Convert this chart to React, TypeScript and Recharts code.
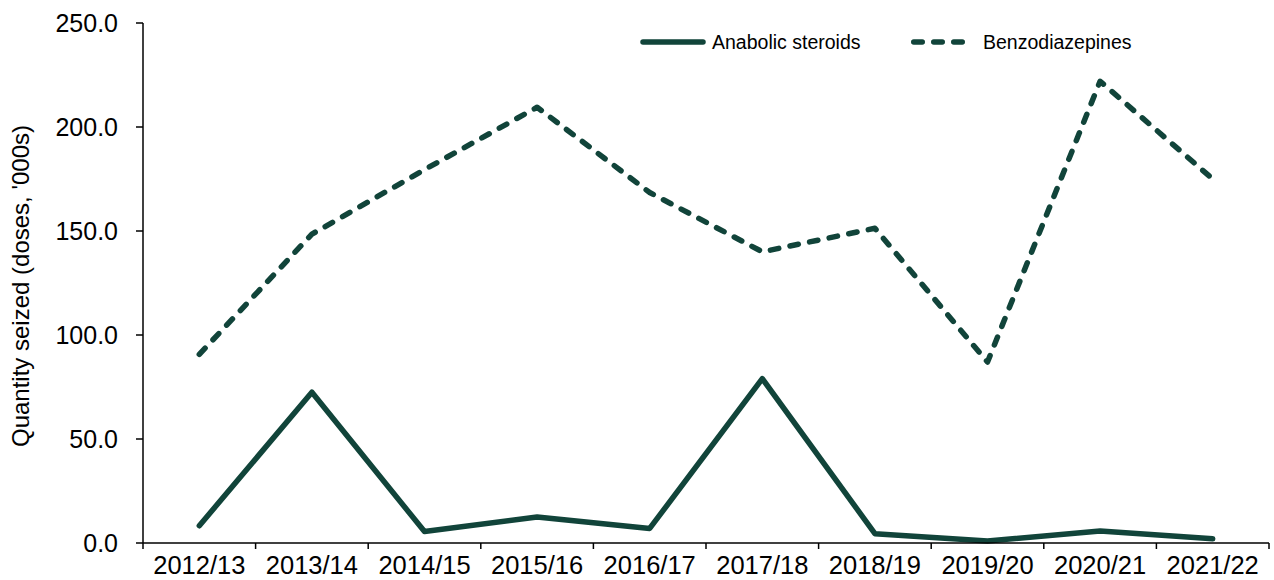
import React from "react";
import { LineChart, Line, XAxis, YAxis } from "recharts";

const categories = ["2012/13", "2013/14", "2014/15", "2015/16", "2016/17", "2017/18", "2018/19", "2019/20", "2020/21", "2021/22"];
const anabolicSteroids = [8.3, 72.5, 5.5, 12.5, 7.0, 79.0, 4.5, 1.0, 5.8, 2.0];
const benzodiazepines = [90.7, 148.5, 179.5, 209.5, 168.5, 140.0, 151.3, 87.0, 222.0, 175.0];
const yTicks = [0, 50, 100, 150, 200, 250];
const seriesNames = ["Anabolic steroids", "Benzodiazepines"];

const data = categories.map((c, i) => ({
  year: c,
  anabolic: anabolicSteroids[i],
  benzo: benzodiazepines[i],
}));

const W = 1274;
const H = 580;
const XAXIS_H = 37;
const MARGIN = { top: 23, right: 5, bottom: 0, left: 0 };
const YAXIS_W = 143;
const COLOR = "#11443A";
const FONT = "'Liberation Sans', Arial, sans-serif";
const DASH = "8.5 11.5";

const plotW = W - MARGIN.left - MARGIN.right - YAXIS_W;
const bandW = plotW / categories.length;

const XTick = (props: any) => {
  const { x, payload, index } = props;
  const y0 = H - XAXIS_H;
  const left = x - bandW / 2;
  const right = x + bandW / 2;
  return (
    <g>
      <line x1={left} y1={y0} x2={left} y2={y0 + 6} stroke="#000" strokeWidth={1.5} />
      {index === categories.length - 1 && (
        <line x1={right} y1={y0} x2={right} y2={y0 + 6} stroke="#000" strokeWidth={1.5} />
      )}
      <text x={x} y={y0 + 31} textAnchor="middle" fontSize={25.5} fontFamily={FONT} fill="#000">
        {payload.value}
      </text>
    </g>
  );
};

const LegendOverlay = () => (
  <svg
    width={W}
    height={70}
    style={{ position: "absolute", left: 0, top: 0, pointerEvents: "none" }}
  >
    <line x1={643} y1={42} x2={703} y2={42} stroke={COLOR} strokeWidth={5.5} strokeLinecap="round" />
    <text x={712} y={42} dominantBaseline="central" fontSize={19.5} fontFamily={FONT} fill="#000">
      {seriesNames[0]}
    </text>
    <line
      x1={913.75}
      y1={42}
      x2={962.25}
      y2={42}
      stroke={COLOR}
      strokeWidth={5.5}
      strokeLinecap="round"
      strokeDasharray={DASH}
    />
    <text x={983} y={42} dominantBaseline="central" fontSize={19.5} fontFamily={FONT} fill="#000">
      {seriesNames[1]}
    </text>
  </svg>
);

const YLabel = () => (
  <text
    x={20}
    y={286}
    transform="rotate(-90 20 286)"
    textAnchor="middle"
    dominantBaseline="central"
    fontSize={24}
    fontFamily={FONT}
    fill="#000"
  >
    Quantity seized (doses, '000s)
  </text>
);

export default function App() {
  return (
    <div style={{ position: "absolute", left: 0, top: 0, width: W, height: H, background: "#fff" }}>
      <LineChart width={W} height={H} data={data} margin={MARGIN}>
        <XAxis
          dataKey="year"
          scale="band"
          interval={0}
          tickLine={false}
          axisLine={{ stroke: "#000", strokeWidth: 1.5 }}
          tick={<XTick />}
          height={XAXIS_H}
        />
        <YAxis
          domain={[0, 250]}
          ticks={yTicks}
          interval={0}
          width={YAXIS_W}
          tickFormatter={(v: number) => v.toFixed(1)}
          tick={{ fontSize: 25, fontFamily: FONT, fill: "#000" }}
          tickSize={7}
          tickMargin={18}
          tickLine={{ stroke: "#000", strokeWidth: 1.5 }}
          axisLine={{ stroke: "#000", strokeWidth: 1.5 }}
          label={<YLabel />}
        />
        <Line
          dataKey="anabolic"
          name={seriesNames[0]}
          stroke={COLOR}
          strokeWidth={5.5}
          strokeLinecap="round"
          strokeLinejoin="round"
          dot={false}
          activeDot={false}
          isAnimationActive={false}
        />
        <Line
          dataKey="benzo"
          name={seriesNames[1]}
          stroke={COLOR}
          strokeWidth={5.5}
          strokeLinecap="round"
          strokeLinejoin="round"
          strokeDasharray={DASH}
          dot={false}
          activeDot={false}
          isAnimationActive={false}
        />
      </LineChart>
      <LegendOverlay />
    </div>
  );
}
